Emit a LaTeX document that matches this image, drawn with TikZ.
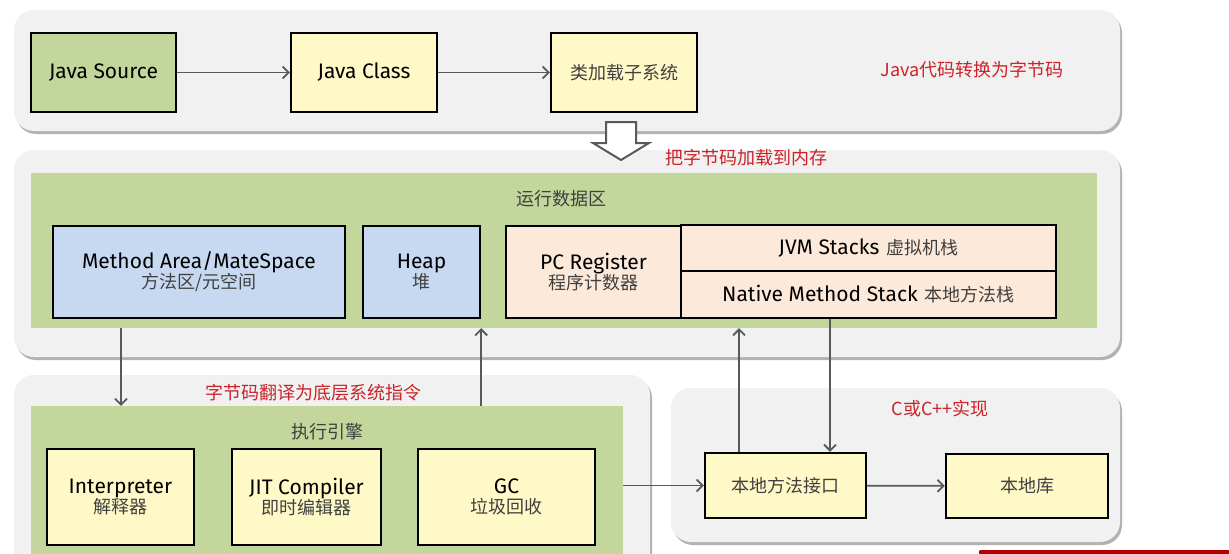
\documentclass[tikz,border=0pt]{standalone}
\usepackage{fontspec}
\setmainfont{Noto Sans CJK SC}
\newfontfamily\hand{Fira Sans}
\newcommand{\en}{\hand\fontsize{21}{23}\selectfont}
\usetikzlibrary{arrows.meta,shadows}
\definecolor{panelgray}{HTML}{F1F1F1}
\definecolor{grn}{HTML}{C3D69B}
\definecolor{yel}{HTML}{FFF9C7}
\definecolor{blu}{HTML}{C6D9F1}
\definecolor{pch}{HTML}{FDE9D9}
\definecolor{redtxt}{HTML}{CC2229}
\definecolor{arrgray}{HTML}{555A5A}
\definecolor{txtgray}{HTML}{404040}
\begin{document}
\begin{tikzpicture}[x=1pt,y=-1pt,
  panel/.style={fill=panelgray,rounded corners=20pt,inner sep=0pt,
    drop shadow={fill=black,opacity=0.3,shadow xshift=2pt,shadow yshift=-3pt}},
  area/.style={fill=grn,inner sep=0pt},
  box/.style={draw=black,line width=2.4pt,inner sep=0pt,align=center,
    font=\fontsize{18}{22}\selectfont},
  redlbl/.style={text=redtxt,font=\fontsize{18}{22}\selectfont},
  ttl/.style={text=txtgray,font=\fontsize{18}{22}\selectfont},
  arr/.style={draw=arrgray,line width=1.8pt,-{Straight Barb[length=6pt,width=12pt,line width=1.8pt]}},
]
\useasboundingbox[fill=white] (0,0) rectangle (1229,554);

% panels
\node[panel,minimum width=1106pt,minimum height=121pt] (p1) at (567,70.5) {};
\node[panel,minimum width=1106pt,minimum height=207pt] (p2) at (567,253.5) {};
\node[panel,minimum width=636pt,minimum height=200pt] (p3) at (332,475) {};
\node[panel,minimum width=449pt,minimum height=154pt] (p4) at (895.5,465) {};

% green areas
\node[area,minimum width=1066pt,minimum height=155pt] (g1) at (564,250.5) {};
\node[area,minimum width=592pt,minimum height=170pt] (g2) at (327,491) {};

% top row
\node[box,fill=grn,minimum width=145pt,minimum height=79pt] (js) at (103.5,72.5) {\en Java Source};
\node[box,fill=yel,minimum width=146pt,minimum height=79pt] (jc) at (364,72.5) {\en Java Class};
\node[box,fill=yel,minimum width=146pt,minimum height=79pt] (cl) at (624,72.5) {\color{txtgray}类加载子系统};
\node[redlbl] (t1) at (972,70) {Java代码转换为字节码};

\draw[arr] (js) -- (jc);
\draw[arr] (jc) -- (cl);

% hollow arrow
\draw[draw=arrgray,fill=white,line width=2pt,line join=miter]
  (606,122) -- (636,122) -- (636,143) -- (649,143) -- (621,160) -- (593,143) -- (606,143) -- cycle;
\node[redlbl,anchor=west] (t2) at (662,158) {把字节码加载到内存};

% runtime data area
\node[ttl] (t3) at (561,199) {运行数据区};
\node[box,fill=blu,minimum width=292pt,minimum height=92pt] (ma) at (199,272)
  {{\en Method Area/MateSpace}\\[-2pt]{\color{txtgray}方法区/元空间}};
\node[box,fill=blu,minimum width=117pt,minimum height=92pt] (heap) at (421.5,272)
  {{\en Heap}\\[-2pt]{\color{txtgray}堆}};
\node[box,fill=pch,minimum width=175pt,minimum height=92pt] (pc) at (593.5,272)
  {{\en PC Register}\\[-2pt]{\color{txtgray}程序计数器}};
\node[box,fill=pch,minimum width=375pt,minimum height=46pt] (jvm) at (868.5,248)
  {{\en JVM Stacks}\hspace{7pt}{\color{txtgray}虚拟机栈}};
\node[box,fill=pch,minimum width=375pt,minimum height=47pt] (nms) at (868.5,294.5)
  {{\en Native Method Stack}\hspace{7pt}{\color{txtgray}本地方法栈}};

% execution engine
\node[redlbl] (t4) at (313,393) {字节码翻译为底层系统指令};
\node[ttl] (t5) at (327,432) {执行引擎};
\node[box,fill=yel,minimum width=147pt,minimum height=96pt] (intp) at (120.5,497)
  {{\en Interpreter}\\[-2pt]{\color{txtgray}解释器}};
\node[box,fill=yel,minimum width=149pt,minimum height=96pt] (jit) at (306.5,497)
  {{\en JIT Compiler}\\[-2pt]{\color{txtgray}即时编辑器}};
\node[box,fill=yel,minimum width=177pt,minimum height=96pt] (gc) at (506.5,497)
  {{\en GC}\\[-2pt]{\color{txtgray}垃圾回收}};

% native
\node[redlbl] (t6) at (940,409) {C或C++实现};
\node[box,fill=yel,minimum width=161pt,minimum height=65pt] (ni) at (785.5,485.5) {\color{txtgray}本地方法接口};
\node[box,fill=yel,minimum width=162pt,minimum height=64pt] (lib) at (1027,486) {\color{txtgray}本地库};

% connectors
\coordinate (xa) at (121,0);
\coordinate (xb) at (739,0);
\coordinate (xc) at (830,0);
\draw[arr] (g1.south -| xa) -- (g2.north -| xa);
\draw[arr] (g2.north -| heap.east) -- (g1.south -| heap.east);
\draw[arr] (g2.east |- ni.west) -- (ni.west);
\draw[arr] (ni.north -| xb) -- (g1.south -| xb);
\draw[arr] (nms.south -| xc) -- (ni.north -| xc);
\draw[arr] (ni) -- (lib);

% red bar fragment at bottom right
\fill[red!70!black,rounded corners=1pt] (979,550) rectangle (1232,556);
\end{tikzpicture}
\end{document}
